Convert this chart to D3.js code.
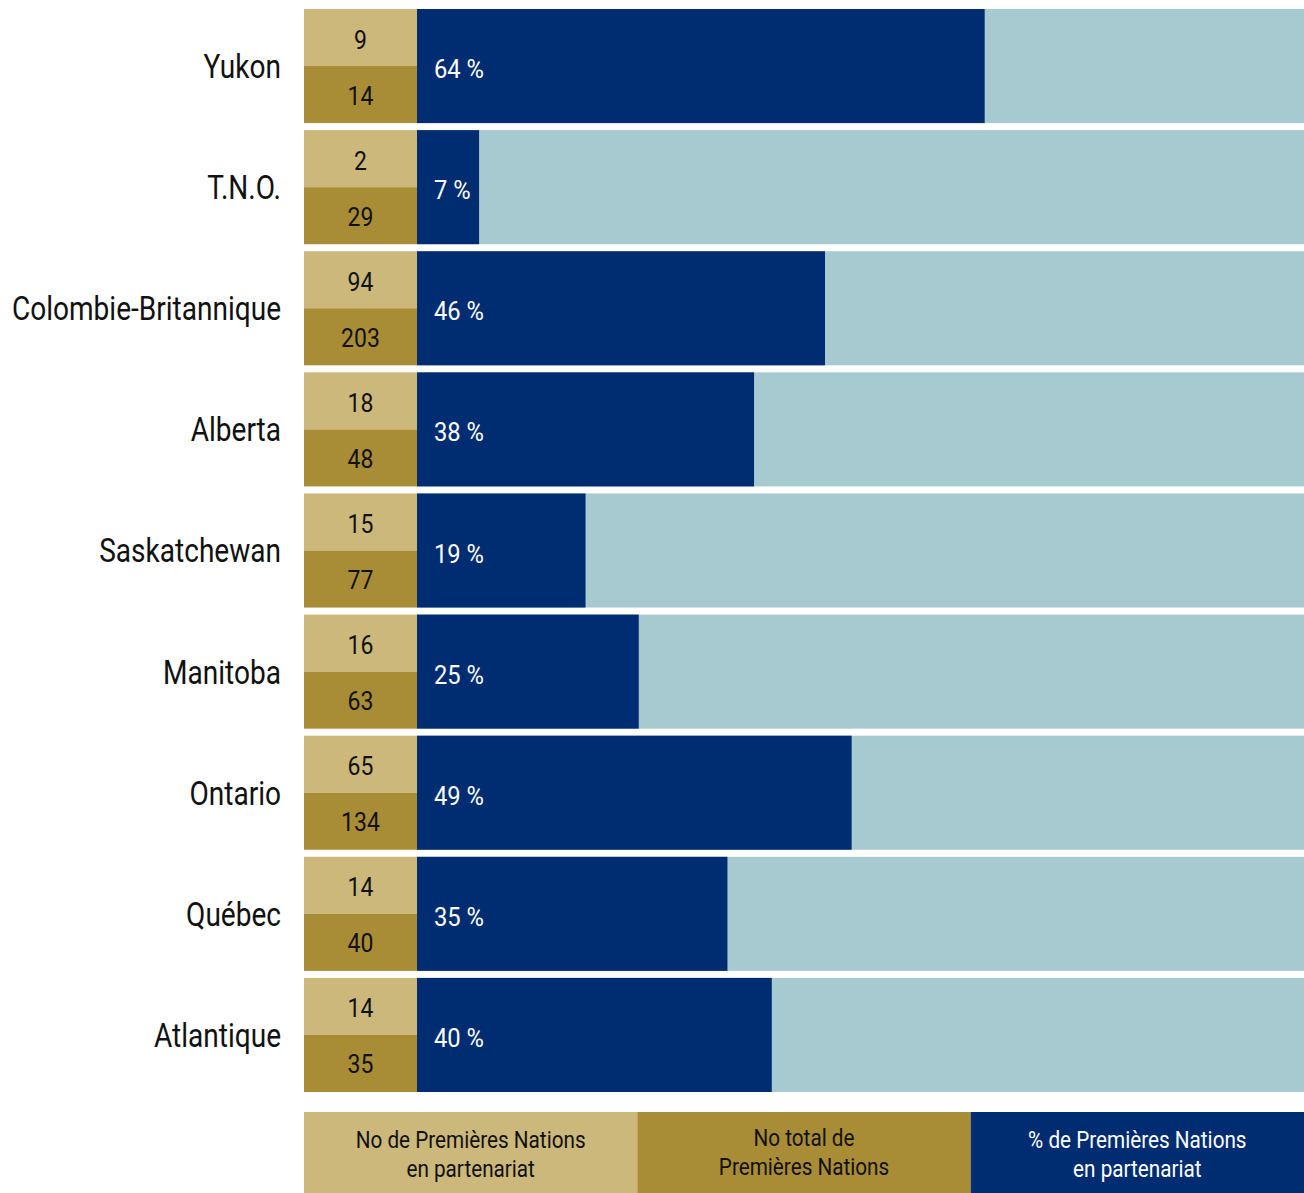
<!DOCTYPE html>
<html>
<head>
<meta charset="utf-8">
<script src="https://d3js.org/d3.v7.min.js"></script>
<style>
  body { margin: 0; background: #fff; }
  svg text { font-family: Roboto, "Noto Sans", sans-serif; }
</style>
</head>
<body>
<div id="vis-container"></div>
<script>
// regions, partnered First Nations, total First Nations, % in partnership
const regions = ["Yukon", "T.N.O.", "Colombie-Britannique", "Alberta", "Saskatchewan",
  "Manitoba", "Ontario", "Québec", "Atlantique"];
const partnered = [9, 2, 94, 18, 15, 16, 65, 14, 14];
const totals = [14, 29, 203, 48, 77, 63, 134, 40, 35];
const percents = [64, 7, 46, 38, 19, 25, 49, 35, 40];
const legendLabels = [
  ["No de Premières Nations", "en partenariat"],
  ["No total de", "Premières Nations"],
  ["% de Premières Nations", "en partenariat"]
];

const colors = {
  lightGold: "#cbb87a",
  darkGold: "#a98c36",
  navy: "#002d72",
  paleBlue: "#a7cad0"
};

const width = 1304, height = 1193;
const boxLeft = 304, barLeft = 417, barRight = 1304;

const svg = d3.select("#vis-container")
  .append("svg")
  .attr("width", width)
  .attr("height", height);

const y = d3.scaleBand()
  .domain(regions)
  .range([9, 1092])
  .paddingInner(0.058)
  .paddingOuter(0);

const x = d3.scaleLinear()
  .domain([0, 100])
  .range([barLeft, barRight]);

const rows = svg.selectAll("g.row")
  .data(regions.map((r, i) => ({ region: r, partnered: partnered[i], total: totals[i], pct: percents[i] })))
  .enter()
  .append("g")
  .attr("class", "row")
  .attr("transform", d => `translate(0,${y(d.region)})`);

const bh = y.bandwidth();

// pale background bar
rows.append("rect")
  .attr("x", x(0))
  .attr("y", 0)
  .attr("width", x(100) - x(0))
  .attr("height", bh)
  .attr("fill", colors.paleBlue);

// percentage bar
rows.append("rect")
  .attr("x", x(0))
  .attr("y", 0)
  .attr("width", d => x(d.pct) - x(0))
  .attr("height", bh)
  .attr("fill", colors.navy);

// count boxes
rows.append("rect")
  .attr("x", boxLeft)
  .attr("y", 0)
  .attr("width", barLeft - boxLeft)
  .attr("height", bh / 2)
  .attr("fill", colors.lightGold);

rows.append("rect")
  .attr("x", boxLeft)
  .attr("y", bh / 2)
  .attr("width", barLeft - boxLeft)
  .attr("height", bh / 2)
  .attr("fill", colors.darkGold);

// condensed look: squeeze text horizontally
const cx = (boxLeft + barLeft) / 2;

rows.append("text")
  .attr("transform", `translate(${cx},${bh / 4 + 2}) scale(0.92,1)`)
  .attr("dy", "0.36em")
  .attr("text-anchor", "middle")
  .attr("font-size", 25)
  .attr("fill", "#111")
  .text(d => d.partnered);

rows.append("text")
  .attr("transform", `translate(${cx},${bh * 3 / 4 + 1}) scale(0.92,1)`)
  .attr("dy", "0.36em")
  .attr("text-anchor", "middle")
  .attr("font-size", 25)
  .attr("fill", "#111")
  .text(d => d.total);

rows.append("text")
  .attr("transform", `translate(${barLeft + 17},${bh / 2 + 3}) scale(0.95,1)`)
  .attr("dy", "0.36em")
  .attr("font-size", 25)
  .attr("fill", "#fff")
  .text(d => `${d.pct} %`);

// region labels
rows.append("text")
  .attr("transform", `translate(281,${bh / 2 + 2}) scale(0.85,1)`)
  .attr("dy", "0.3em")
  .attr("text-anchor", "end")
  .attr("font-size", 33)
  .attr("fill", "#111")
  .text(d => d.region);

// legend
const legend = d3.scaleBand()
  .domain(d3.range(legendLabels.length))
  .range([boxLeft, barRight]);

const legendFill = [colors.lightGold, colors.darkGold, colors.navy];
const legendText = ["#111", "#111", "#fff"];

const lg = svg.selectAll("g.legend")
  .data(legendLabels)
  .enter()
  .append("g")
  .attr("class", "legend")
  .attr("transform", (d, i) => `translate(${legend(i)},1112)`);

lg.append("rect")
  .attr("width", legend.bandwidth())
  .attr("height", 81)
  .attr("fill", (d, i) => legendFill[i]);

lg.each(function (lines, i) {
  const t = d3.select(this).append("text")
    .attr("transform", `translate(${legend.bandwidth() / 2},0) scale(0.9,1)`)
    .attr("text-anchor", "middle")
    .attr("font-size", 23)
    .attr("fill", legendText[i]);
  lines.forEach((line, j) => {
    t.append("tspan")
      .attr("x", 0)
      .attr("y", (i === 1 ? 34 : 36) + j * 29)
      .text(line);
  });
});
</script>
</body>
</html>
